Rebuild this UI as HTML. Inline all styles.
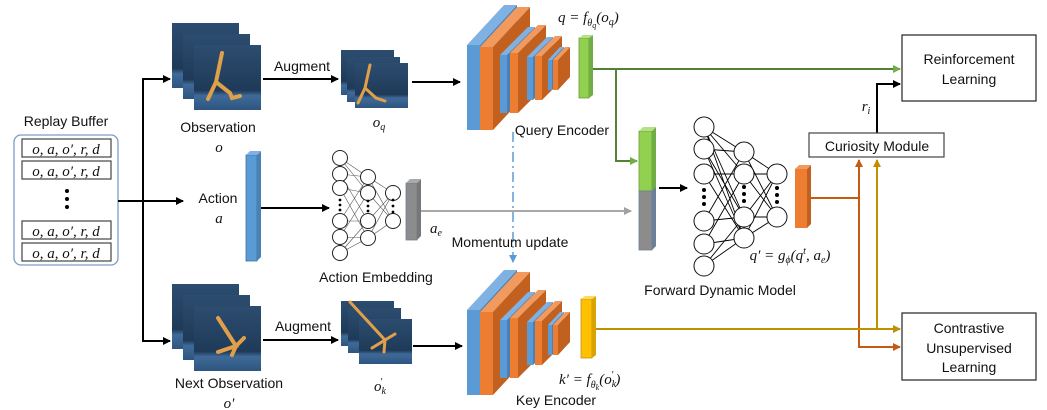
<!DOCTYPE html>
<html><head><meta charset="utf-8"><style>
html,body{margin:0;padding:0;background:#fff}
svg{display:block}
.t{font-family:"Liberation Sans",sans-serif;font-size:14px;fill:#111}
.m{font-family:"Liberation Serif",serif;font-style:italic;font-size:15px;fill:#111}
</style></head><body>
<svg width="1047" height="410" viewBox="0 0 1047 410" xmlns="http://www.w3.org/2000/svg">
<defs>
<marker id="ab" markerWidth="8" markerHeight="8" refX="7" refY="4" orient="auto" markerUnits="userSpaceOnUse"><path d="M0,0 L8,4 L0,8z" fill="#000"/></marker>
<marker id="ag" markerWidth="8" markerHeight="8" refX="7" refY="4" orient="auto" markerUnits="userSpaceOnUse"><path d="M0,0 L8,4 L0,8z" fill="#70ad47"/></marker>
<marker id="ao" markerWidth="8" markerHeight="8" refX="7" refY="4" orient="auto" markerUnits="userSpaceOnUse"><path d="M0,0 L8,4 L0,8z" fill="#c55a11"/></marker>
<marker id="ay" markerWidth="8" markerHeight="8" refX="7" refY="4" orient="auto" markerUnits="userSpaceOnUse"><path d="M0,0 L8,4 L0,8z" fill="#bf9000"/></marker>
<marker id="agr" markerWidth="8" markerHeight="8" refX="7" refY="4" orient="auto" markerUnits="userSpaceOnUse"><path d="M0,0 L8,4 L0,8z" fill="#a0a0a0"/></marker>
<marker id="abl" markerWidth="8" markerHeight="8" refX="7" refY="4" orient="auto" markerUnits="userSpaceOnUse"><path d="M0,0 L8,4 L0,8z" fill="#5b9bd5"/></marker>
<linearGradient id="img" x1="0" y1="0" x2="0" y2="1"><stop offset="0" stop-color="#2c4d70"/><stop offset="0.7" stop-color="#1f3a58"/><stop offset="0.78" stop-color="#3f6a98"/><stop offset="1" stop-color="#2e5580"/></linearGradient>
<g id="enc">
<rect x="467" y="45" width="13" height="85" fill="#5b9bd5"/><polygon points="480,45 517,5 517,90 480,130" fill="#4a80b8"/><polygon points="467,45 504,5 517,5 480,45" fill="#7fb2e2"/>
<rect x="480" y="47" width="13" height="83" fill="#ed7d31"/><polygon points="493,47 530,7 530,90 493,130" fill="#c2611f"/><polygon points="480,47 517,7 530,7 493,47" fill="#f29a5e"/>
<rect x="500" y="55" width="7" height="58" fill="#5b9bd5"/><polygon points="507,55 535,27 535,85 507,113" fill="#4a80b8"/><polygon points="500,55 528,27 535,27 507,55" fill="#7fb2e2"/>
<rect x="510" y="53" width="8" height="60" fill="#ed7d31"/><polygon points="518,53 546,25 546,85 518,113" fill="#c2611f"/><polygon points="510,53 538,25 546,25 518,53" fill="#f29a5e"/>
<rect x="527" y="57" width="6" height="43" fill="#5b9bd5"/><polygon points="533,57 553,37 553,80 533,100" fill="#4a80b8"/><polygon points="527,57 547,37 553,37 533,57" fill="#7fb2e2"/>
<rect x="535" y="56" width="7" height="44" fill="#ed7d31"/><polygon points="542,56 562,36 562,80 542,100" fill="#c2611f"/><polygon points="535,56 555,36 562,36 542,56" fill="#f29a5e"/>
<rect x="548" y="60" width="4" height="30" fill="#5b9bd5"/><polygon points="552,60 564,47 564,77 552,90" fill="#4a80b8"/><polygon points="548,60 560,47 564,47 552,60" fill="#7fb2e2"/>
<rect x="553" y="60" width="5" height="30" fill="#ed7d31"/><polygon points="558,60 570,47 570,77 558,90" fill="#c2611f"/><polygon points="553,60 565,47 570,47 558,60" fill="#f29a5e"/>
</g>
<g id="frame"><rect width="67" height="65" fill="url(#img)"/></g>
<g id="sframe"><rect width="53" height="45" fill="url(#img)"/></g>
</defs>

<text class="t" x="66" y="126" text-anchor="middle">Replay Buffer</text>
<rect x="14" y="135" width="104" height="130" rx="7" fill="none" stroke="#7a9cc6" stroke-width="1.3"/>
<g fill="#fff" stroke="#444" stroke-width="1.2">
<rect x="22" y="139" width="89" height="18"/><rect x="22" y="161" width="89" height="18"/>
<rect x="22" y="221" width="89" height="18"/><rect x="22" y="243" width="89" height="18"/></g>
<g class="m"><text x="66" y="154" text-anchor="middle" class="m">o, a, o′, r, d</text><text x="66" y="176" text-anchor="middle" class="m">o, a, o′, r, d</text><text x="66" y="236" text-anchor="middle" class="m">o, a, o′, r, d</text><text x="66" y="258" text-anchor="middle" class="m">o, a, o′, r, d</text></g>
<circle cx="67" cy="191" r="2" fill="#000"/><circle cx="67" cy="199" r="2" fill="#000"/><circle cx="67" cy="207" r="2" fill="#000"/>

<g stroke="#000" stroke-width="2" fill="none">
<path d="M118,201 H183" marker-end="url(#ab)"/>
<path d="M143,201 V79 H170" marker-end="url(#ab)"/>
<path d="M143,201 V341 H170" marker-end="url(#ab)"/>
<path d="M263,79 H338" marker-end="url(#ab)"/>
<path d="M412,82 H460" marker-end="url(#ab)"/>
<path d="M263,340 H338" marker-end="url(#ab)"/>
<path d="M413,346 H462" marker-end="url(#ab)"/>
<path d="M257,208 H329" marker-end="url(#ab)"/>
<path d="M659,188 H687" marker-end="url(#ab)"/>
</g>

<use href="#frame" x="172" y="23"/><use href="#frame" x="183" y="34"/><use href="#frame" x="194" y="45"/>
<g stroke="#e0a04a" stroke-width="4" stroke-linecap="round" fill="none"><path d="M222,53 L216,82 L208,99 M216,82 L230,93 L232,98 L240,96"/></g>
<text class="t" x="218" y="132" text-anchor="middle">Observation</text>
<text class="m" x="219" y="152" text-anchor="middle">o</text>
<text class="t" x="302" y="71" text-anchor="middle">Augment</text>
<use href="#sframe" x="341" y="50"/><use href="#sframe" x="347" y="57"/><use href="#sframe" x="355" y="63"/>
<g stroke="#e0a04a" stroke-width="3" stroke-linecap="round" fill="none"><path d="M370,65 L365,88 L358,103 M365,88 L376,98 L385,101"/></g>
<text class="m" x="379" y="127" text-anchor="middle">o<tspan font-size="10" dy="3">q</tspan></text>

<use href="#frame" x="172" y="284"/><use href="#frame" x="183" y="295"/><use href="#frame" x="194" y="306"/>
<g stroke="#e0a04a" stroke-width="4" stroke-linecap="round" fill="none"><path d="M218,318 L236,346 L218,352 M236,346 L244,338 M236,346 L232,355"/></g>
<text class="t" x="229" y="388" text-anchor="middle">Next Observation</text>
<text class="m" x="229" y="408" text-anchor="middle">o′</text>
<text class="t" x="303" y="331" text-anchor="middle">Augment</text>
<use href="#sframe" x="341" y="301"/><use href="#sframe" x="348" y="308"/><use href="#sframe" x="359" y="319"/>
<g stroke="#e0a04a" stroke-width="3" stroke-linecap="round" fill="none"><path d="M350,302 L385,340 L372,348 M385,340 L395,334 M385,340 L384,352"/></g>
<text class="m" x="374" y="391">o<tspan font-size="10" dy="3">k</tspan><tspan font-size="10" dx="-6" dy="-9">′</tspan></text>

<text class="t" x="218" y="203" text-anchor="middle">Action</text>
<text class="m" x="219" y="223" text-anchor="middle">a</text>
<rect x="246" y="155" width="11" height="106" fill="#5b9bd5" stroke="#41719c" stroke-width="0.8"/>
<polygon points="257,155 261,151 261,257 257,261" fill="#4a80b8"/><polygon points="246,155 250,151 261,151 257,155" fill="#7fb2e2"/>

<g stroke="#555" stroke-width="0.6">
<path d="M340,158 L368,177 M340,158 L368,193 M340,174 L368,177 M340,174 L368,221 M340,188 L368,193 M340,188 L368,238 M340,221 L368,177 M340,221 L368,221 M340,237 L368,193 M340,237 L368,238 M340,253 L368,221 M340,253 L368,238 M368,177 L393,193 M368,193 L393,221 M368,221 L393,193 M368,238 L393,221 M368,177 L393,221 M368,238 L393,193"/></g>
<g fill="#fff" stroke="#222" stroke-width="1">
<circle cx="340" cy="158" r="7.5"/><circle cx="340" cy="174" r="7.5"/><circle cx="340" cy="188" r="7.5"/><circle cx="340" cy="221" r="7.5"/><circle cx="340" cy="237" r="7.5"/><circle cx="340" cy="253" r="7.5"/>
<circle cx="368" cy="177" r="7.5"/><circle cx="368" cy="193" r="7.5"/><circle cx="368" cy="221" r="7.5"/><circle cx="368" cy="238" r="7.5"/>
<circle cx="393" cy="193" r="7.5"/><circle cx="393" cy="221" r="7.5"/></g>
<g fill="#000"><circle cx="340" cy="200" r="1.4"/><circle cx="340" cy="205" r="1.4"/><circle cx="340" cy="210" r="1.4"/><circle cx="368" cy="201" r="1.4"/><circle cx="368" cy="206" r="1.4"/><circle cx="368" cy="211" r="1.4"/><circle cx="393" cy="200" r="1.4"/><circle cx="393" cy="206" r="1.4"/><circle cx="393" cy="212" r="1.4"/></g>
<rect x="406" y="183" width="11" height="57" fill="#8c8c8c" stroke="#6b7f99" stroke-width="0.8"/>
<polygon points="417,183 421,179 421,236 417,240" fill="#777"/><polygon points="406,183 410,179 421,179 417,183" fill="#aaa"/>
<text class="m" x="436" y="233" text-anchor="middle">a<tspan font-size="10" dy="3">e</tspan></text>
<text class="t" x="376" y="282" text-anchor="middle">Action Embedding</text>
<path d="M421,211 H631" stroke="#a8a8a8" stroke-width="2" fill="none" marker-end="url(#agr)"/>

<use href="#enc"/>
<use href="#enc" y="265"/>
<rect x="579" y="38" width="10" height="60" fill="#92d050" stroke="#6a9b3a" stroke-width="0.8"/><polygon points="589,38 593,35 593,95 589,98" fill="#70ad47"/><polygon points="579,38 583,35 593,35 589,38" fill="#b5e08a"/>
<rect x="581" y="299" width="11" height="59" fill="#ffc000" stroke="#c09020" stroke-width="0.8"/><polygon points="592,299 596,296 596,355 592,358" fill="#d9a300"/><polygon points="581,299 585,296 596,296 592,299" fill="#ffd860"/>
<text class="m" x="558" y="22">q = f<tspan font-size="10" dy="4">θ</tspan><tspan font-size="8" dy="2">q</tspan><tspan dy="-6">(o</tspan><tspan font-size="10" dy="3">q</tspan><tspan dy="-3">)</tspan></text>
<text class="t" x="562" y="135" text-anchor="middle">Query Encoder</text>
<text class="m" x="559" y="384">k′ = f<tspan font-size="10" dy="4">θ</tspan><tspan font-size="8" dy="2">k</tspan><tspan dy="-6">(o</tspan><tspan font-size="10" dy="3">k</tspan><tspan font-size="10" dx="-5" dy="-9">′</tspan><tspan dx="2" dy="6">)</tspan></text>
<text class="t" x="556" y="405" text-anchor="middle">Key Encoder</text>
<path d="M513,132 V262" stroke="#5b9bd5" stroke-width="1.5" stroke-dasharray="10,4,2,4" fill="none" marker-end="url(#abl)"/>
<text class="t" x="510" y="247" text-anchor="middle">Momentum update</text>

<rect x="639" y="131" width="13" height="60" fill="#92d050" stroke="#6a9b3a" stroke-width="0.8"/>
<rect x="639" y="191" width="13" height="59" fill="#8c8c8c" stroke="#6b7f99" stroke-width="0.8"/>
<polygon points="652,131 656,127 656,246 652,250" fill="#70ad47"/><polygon points="652,191 656,187 656,246 652,250" fill="#6b7f99"/><polygon points="639,131 643,127 656,127 652,131" fill="#b5e08a"/>

<g stroke="#000" stroke-width="0.9">
<path d="M704,127 L744,152 M704,127 L744,174 M704,127 L744,217 M704,127 L744,238 M704,149 L744,152 M704,149 L744,217 M704,174 L744,174 M704,174 L744,238 M704,221 L744,152 M704,221 L744,217 M704,244 L744,174 M704,244 L744,238 M704,266 L744,217 M704,266 L744,238 M704,149 L744,238 M744,152 L777,174 M744,152 L777,217 M744,174 L777,174 M744,174 L777,217 M744,217 L777,174 M744,217 L777,217 M744,238 L777,174 M744,238 L777,217"/></g>
<g fill="#fff" stroke="#111" stroke-width="1">
<circle cx="704" cy="127" r="10"/><circle cx="704" cy="149" r="10"/><circle cx="704" cy="174" r="10"/><circle cx="704" cy="221" r="10"/><circle cx="704" cy="244" r="10"/><circle cx="704" cy="266" r="10"/>
<circle cx="744" cy="152" r="10"/><circle cx="744" cy="174" r="10"/><circle cx="744" cy="217" r="10"/><circle cx="744" cy="238" r="10"/>
<circle cx="777" cy="174" r="10"/><circle cx="777" cy="217" r="10"/></g>
<g fill="#000"><circle cx="704" cy="190" r="2"/><circle cx="704" cy="197" r="2"/><circle cx="704" cy="204" r="2"/><circle cx="744" cy="187" r="2"/><circle cx="744" cy="194" r="2"/><circle cx="744" cy="201" r="2"/><circle cx="777" cy="188" r="2"/><circle cx="777" cy="195" r="2"/><circle cx="777" cy="202" r="2"/></g>
<text class="m" x="790" y="260" text-anchor="middle">q′ = g<tspan font-size="10" dy="3">ϕ</tspan><tspan dy="-3">(q</tspan><tspan font-size="10" dy="-6">t</tspan><tspan dy="6">, a</tspan><tspan font-size="10" dy="3">e</tspan><tspan dy="-3">)</tspan></text>
<text class="t" x="720" y="295" text-anchor="middle">Forward Dynamic Model</text>
<rect x="795" y="169" width="12" height="59" fill="#ed7d31"/><polygon points="807,169 811,165 811,224 807,228" fill="#c2611f"/><polygon points="795,169 799,165 811,165 807,169" fill="#f29a5e"/>

<g fill="none" stroke-width="2">
<path d="M593,69 H900" stroke="#548235" marker-end="url(#ag)"/>
<path d="M616,69 V161 H637" stroke="#548235" marker-end="url(#ag)"/>
<path d="M811,198 H859" stroke="#c55a11"/>
<path d="M859,347 V160" stroke="#c55a11" marker-end="url(#ao)"/>
<path d="M859,198 V347 H900" stroke="#c55a11" marker-end="url(#ao)"/>
<path d="M596,329 H900" stroke="#bf9000" marker-end="url(#ay)"/>
<path d="M877,329 V160" stroke="#bf9000" marker-end="url(#ay)"/>
<path d="M877,133 V84 H900" stroke="#000" marker-end="url(#ab)"/>
</g>
<text class="m" x="866" y="111" text-anchor="middle">r<tspan font-size="10" dy="3">i</tspan></text>
<rect x="809" y="133" width="135" height="24" fill="#fff" stroke="#444" stroke-width="1.2"/>
<text class="t" x="877" y="151" text-anchor="middle">Curiosity Module</text>
<rect x="902" y="35" width="134" height="66" fill="#fff" stroke="#222" stroke-width="1.2"/>
<text class="t" x="969" y="64" text-anchor="middle">Reinforcement</text>
<text class="t" x="969" y="84" text-anchor="middle">Learning</text>
<rect x="902" y="313" width="134" height="67" fill="#fff" stroke="#222" stroke-width="1.2"/>
<text class="t" x="969" y="333" text-anchor="middle">Contrastive</text>
<text class="t" x="969" y="353" text-anchor="middle">Unsupervised</text>
<text class="t" x="969" y="372" text-anchor="middle">Learning</text>
</svg>
</body></html>
